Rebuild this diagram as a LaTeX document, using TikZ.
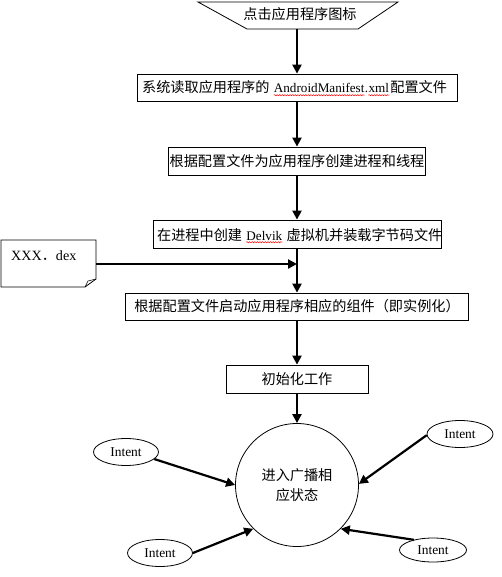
\documentclass[tikz,border=0pt]{standalone}
\usepackage{fontspec}
\setmainfont{Liberation Serif}
\newfontfamily\cjk{Noto Sans CJK SC}
\usepackage{xcolor}
\usetikzlibrary{arrows.meta,shapes.geometric,decorations.pathmorphing}
\tikzset{
  box/.style={draw, line width=0.8bp, inner sep=0pt, font=\fontsize{14.2}{16}\selectfont},
  arr/.style={line width=2.2bp, -{Triangle[length=9bp,width=9bp]}},
  intent/.style={draw, ellipse, line width=0.8bp, inner sep=0pt, font=\fontsize{13.5}{15}\selectfont},
  txt/.style={font=\fontsize{14.2}{16}\selectfont, inner sep=0pt},
  seg/.style={txt, anchor=base west},
  lat/.style={seg, font=\fontsize{13.2}{16}\selectfont},
  wave/.style={red, line width=0.5bp, decorate, decoration={snake, amplitude=0.6bp, segment length=2.6bp}},
}
\begin{document}
\begin{tikzpicture}[x=1bp,y=-1bp]
\fill[white] (0,0) rectangle (502,577);
\useasboundingbox (0,0) rectangle (502,577);
% trapezoid
\draw[line width=0.8bp] (198,2) -- (398,2) -- (358,29) -- (247,29) -- cycle;
\node[txt] (top) at (300,14) {\cjk 点击应用程序图标};
\coordinate (tb) at (297,29);
% boxes
\node[box, minimum width=320bp, minimum height=27bp] (b1) at (297,87.5) {};
\node[seg] (s1a) at (142,93) {\cjk 系统读取应用程序的};
\node[lat, xshift=4bp] (s1b) at (s1a.base east) {AndroidManifest};
\node[lat] (s1c) at (s1b.base east) {.};
\node[lat] (s1d) at (s1c.base east) {xml};
\node[seg, xshift=1bp] (s1e) at (s1d.base east) {\cjk 配置文件};
\draw[wave] ([yshift=-2.2bp]s1b.base west) -- ([yshift=-2.2bp]s1b.base east);
\draw[wave] ([yshift=-2.2bp]s1d.base west) -- ([yshift=-2.2bp]s1d.base east);
\node[box, minimum width=257bp, minimum height=28bp] (b2) at (297,161)
  {\cjk 根据配置文件为应用程序创建进程和线程};
\node[box, minimum width=288bp, minimum height=28bp] (b3) at (297,234) {};
\node[seg] (s3a) at (157,240) {\cjk 在进程中创建};
\node[lat, xshift=4bp] (s3b) at (s3a.base east) {Delvik};
\node[seg, xshift=4bp] (s3c) at (s3b.base east) {\cjk 虚拟机并装载字节码文件};
\draw[wave] ([yshift=-2.2bp]s3b.base west) -- ([yshift=-2.2bp]s3b.base east);
\node[box, minimum width=343bp, minimum height=27bp] (b4) at (297,306.5)
  {\cjk 根据配置文件启动应用程序相应的组件（即实例化）};
\node[box, minimum width=142bp, minimum height=28bp] (b5) at (297,379)
  {\cjk 初始化工作};
\node[draw, circle, line width=0.8bp, minimum size=123bp, inner sep=0pt] (c) at (297,485) {};
\node[txt, align=center, font=\fontsize{14.2}{20}\selectfont] (ct) at (297,485)
  {\cjk 进入广播相\\\cjk 应状态};
% note
\draw[line width=0.8bp] (1,240) -- (96,240) -- (96,279) -- (85,287) -- (1,287) -- cycle;
\draw[line width=0.6bp] (96,279) -- (88,281) -- (85,287);
\node[txt, anchor=west] (note) at (11,256) {XXX{\cjk ．}dex};
\coordinate (nr) at (96,264);
\coordinate (j) at (297,264);
% intents
\node[intent, minimum width=65bp, minimum height=27bp] (e1) at (126,452) {Intent};
\node[intent, minimum width=66bp, minimum height=27bp] (e2) at (460,434) {Intent};
\node[intent, minimum width=65bp, minimum height=27bp] (e3) at (160,553) {Intent};
\node[intent, minimum width=67bp, minimum height=24bp] (e4) at (433,550) {Intent};
% connectors
\draw[arr] (tb) -- (b1.north);
\draw[arr] (b1.south) -- (b2.north);
\draw[arr] (b2.south) -- (b3.north);
\draw[arr] (b3.south) -- (b4.north);
\draw[arr] (nr) -- (j);
\draw[arr] (b4.south) -- (b5.north);
\draw[arr] (b5.south) -- (c.north);
\draw[arr] (e1.-14) -- (c.180);
\draw[arr] (e2.182) -- (c.1);
\draw[arr] (e3.east) -- (c.225);
\draw[arr] (e4.152) -- (c.-45);
\end{tikzpicture}
\end{document}
